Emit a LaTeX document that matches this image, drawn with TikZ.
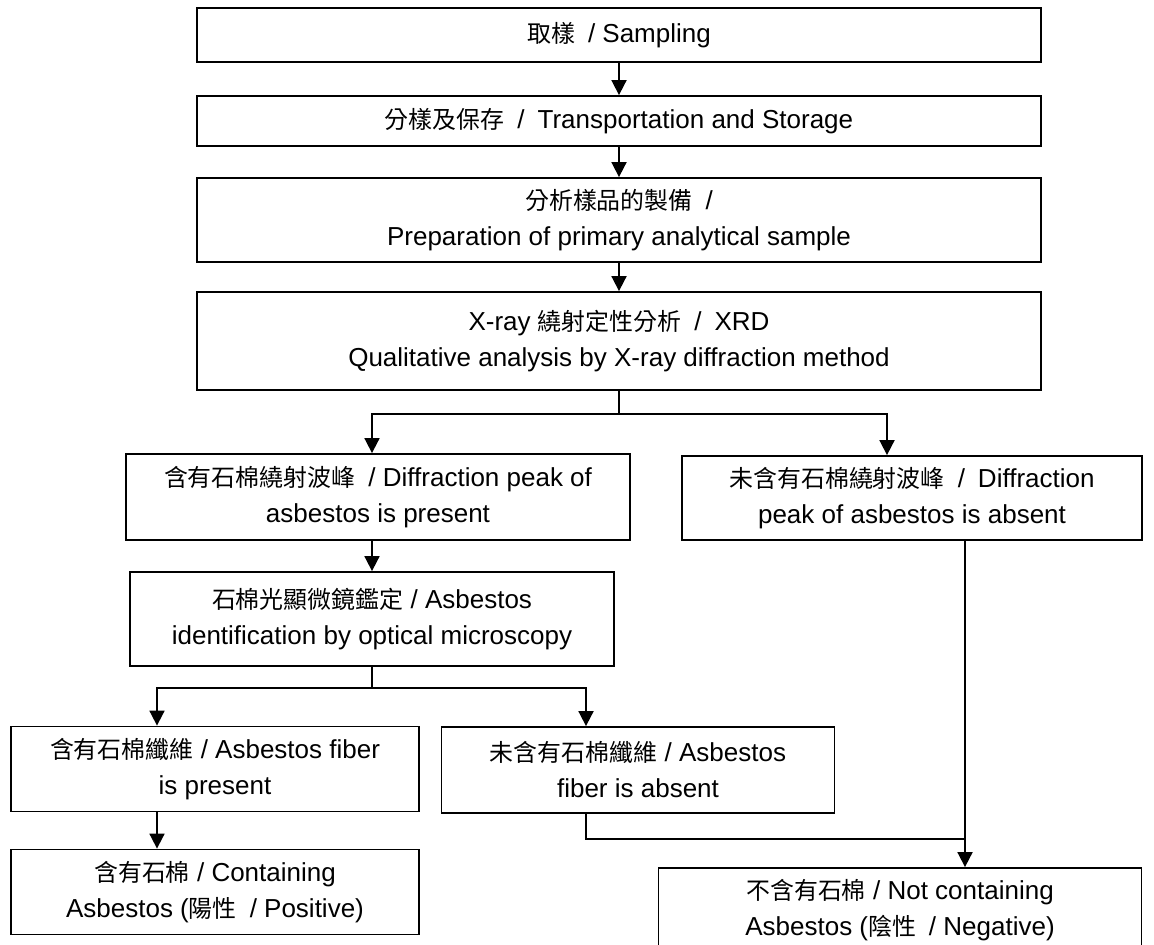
\documentclass[tikz,border=0pt]{standalone}
\usepackage{fontspec}
\setmainfont{Liberation Sans}
\newfontfamily\cjk[Scale=0.92]{Noto Sans CJK TC}
\usepackage{tikz}
\usetikzlibrary{positioning,calc,arrows.meta}

\begin{document}
\begin{tikzpicture}[x=0.5pt,y=-0.5pt,
    box/.style={draw, line width=0.9pt, align=center, inner sep=0pt,
        font=\fontsize{13}{18}\selectfont},
    arr/.style={line width=0.9pt, -{Triangle[length=7.5pt,width=7.5pt]}},
    lin/.style={line width=0.9pt}]
    \useasboundingbox (0,0) rectangle (1154,945);

    % Main column
    \node[box, minimum width=422pt, minimum height=27pt] (samp) at (619,35)
        {{\cjk 取樣}\enspace/ Sampling};
    \node[box, minimum width=422pt, minimum height=25pt] (store) at (619,121)
        {{\cjk 分樣及保存}\enspace/\enspace Transportation and Storage};
    \node[box, minimum width=422pt, minimum height=42pt] (prep) at (619,220)
        {{\cjk 分析樣品的製備}\enspace/\\Preparation of primary analytical sample};
    \node[box, minimum width=422pt, minimum height=49pt] (xrd) at (619,341)
        {X-ray {\cjk 繞射定性分析}\enspace/\enspace XRD\\Qualitative analysis by X-ray diffraction method};
    \draw[arr] (samp) -- (store);
    \draw[arr] (store) -- (prep);
    \draw[arr] (prep) -- (xrd);

    % XRD result
    \node[box, minimum width=252pt, minimum height=43pt] (peak) at (378,497)
        {{\cjk 含有石棉繞射波峰}\enspace/ Diffraction peak of\\asbestos is present};
    \node[box, minimum width=230pt, minimum height=42pt] (nopeak) at (912,498)
        {{\cjk 未含有石棉繞射波峰}\enspace/\enspace Diffraction\\peak of asbestos is absent};
    \coordinate (j1) at (619,414);
    \draw[lin] (xrd) -- (j1);
    \draw[arr] (j1) -| ([xshift=-3pt]peak.north);
    \draw[arr] (j1) -| ([xshift=-12.5pt]nopeak.north);

    % Microscopy
    \node[box, minimum width=242pt, minimum height=47pt] (micro) at (372,619)
        {{\cjk 石棉光顯微鏡鑑定} / Asbestos\\identification by optical microscopy};
    \draw[arr] (micro.north |- peak.south) -- (micro.north);

    \node[box, minimum width=204pt, minimum height=42.5pt] (fiber) at (215,769)
        {{\cjk 含有石棉纖維} / Asbestos fiber\\is present};
    \node[box, minimum width=196.5pt, minimum height=43pt] (nofiber) at (638,770)
        {{\cjk 未含有石棉纖維} / Asbestos\\fiber is absent};
    \coordinate (j2) at (372,688);
    \draw[lin] (micro) -- (j2);
    \draw[arr] (j2) -| ([xshift=-29pt]fiber.north);
    \draw[arr] (j2) -| ([xshift=-26pt]nofiber.north);

    % Results
    \node[box, minimum width=204pt, minimum height=42.5pt] (pos) at (215,892)
        {{\cjk 含有石棉} / Containing\\Asbestos ({\cjk 陽性}\enspace/ Positive)};
    \node[box, minimum width=241.5pt, minimum height=42pt] (neg) at (900,910)
        {{\cjk 不含有石棉} / Not containing\\Asbestos ({\cjk 陰性}\enspace/ Negative)};
    \coordinate (j3) at (965,839);
    \draw[arr] ([xshift=-29pt]fiber.south) -- ([xshift=-29pt]pos.north);
    \draw[lin] ([xshift=-26pt]nofiber.south) |- (j3);
    \draw[arr] (nopeak.south -| j3) -- (neg.north -| j3);
\end{tikzpicture}
\end{document}
